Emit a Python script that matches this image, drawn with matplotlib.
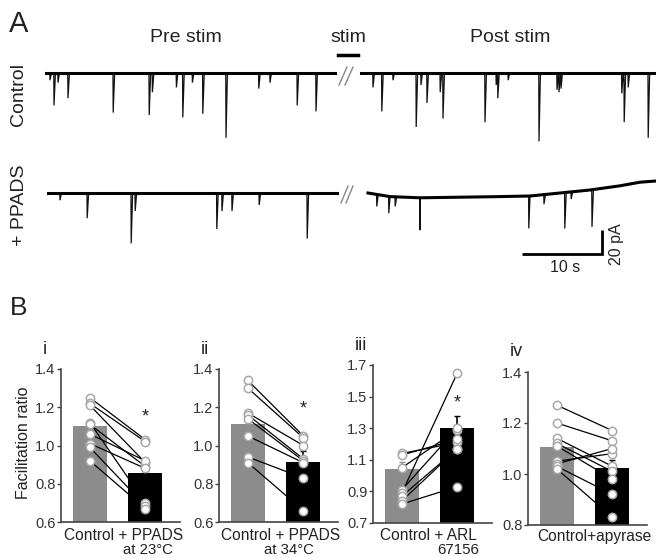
import numpy as np
import matplotlib.pyplot as plt

plt.rcParams['font.family'] = ['Liberation Sans', 'DejaVu Sans']

W, H = 656, 558
TXT = '#222222'

# ---- A: miniature currents, events = (time from segment start in s, amplitude in pA)
ctrl_pre_t = [0.5, 1.0, 1.5, 2.75, 8.4, 12.9, 13.3, 16.3, 17.1, 18.3, 19.6, 22.5, 26.6, 28.0, 31.4, 33.75]
ctrl_pre_a = [6, 27, 8, 21, 33, 35, 16, 12, 37, 8, 34, 54, 13, 8, 27, 32]
ctrl_post_t = [1.5, 2.6, 4.0, 6.9, 7.5, 8.25, 9.9, 10.25, 15.5, 16.9, 17.1, 18.4,
               22.25, 24.5, 24.75, 25.0, 32.6, 32.9, 33.4, 35.9]
ctrl_post_a = [12, 32, 6, 45, 10, 25, 16, 38, 41, 10, 21, 6, 57, 14, 16, 13, 17, 41, 12, 54]
ppads_pre_t = [1.5, 4.9, 10.4, 10.9, 21.1, 21.75, 23.0, 26.4, 32.4]
ppads_pre_a = [6, 21, 42, 15, 30, 15, 15, 10, 38]
ppads_post_t = [1.1, 2.6, 3.4, 6.5, 20.1, 22.0, 24.6, 25.4, 28.0]
ppads_post_a = [10, 14, 8, 27, 27, 8, 30, 6, 31]
ppads_post_base_t = [0, 2.75, 6.5, 16.5, 20.25, 24, 27.75, 31.5, 34, 36]
ppads_post_base_v = [0, -3, -4, -3, -2.5, 0, 2.5, 6, 9, 10]

# ---- B: facilitation ratios (paired cells), bar means and SEM
i_ctrl = [1.25, 1.22, 1.21, 1.12, 1.11, 1.06, 1.01, 0.99, 0.92]
i_drug = [1.03, 1.02, 0.91, 0.70, 0.89, 0.92, 0.88, 0.685, 0.67]
i_mean = [1.10, 0.855]
i_sem = [0.035, 0.045]

ii_ctrl = [1.34, 1.30, 1.17, 1.16, 1.14, 1.05, 0.94, 0.91]
ii_drug = [1.05, 1.04, 1.00, 0.93, 0.92, 0.91, 0.83, 0.66]
ii_mean = [1.115, 0.915]
ii_sem = [0.055, 0.055]

iii_ctrl = [1.14, 1.13, 1.05, 0.91, 0.89, 0.87, 0.84, 0.82]
iii_drug = [1.21, 1.23, 1.29, 1.30, 1.65, 1.17, 1.17, 0.93]
iii_mean = [1.04, 1.30]
iii_sem = [0.045, 0.08]

iv_ctrl = [1.27, 1.20, 1.14, 1.12, 1.11, 1.05, 1.04, 1.03, 1.02]
iv_drug = [1.17, 1.13, 1.03, 1.01, 0.98, 1.08, 1.10, 0.92, 0.83]
iv_mean = [1.105, 1.025]
iv_sem = [0.03, 0.03]


def fx(px):
    return px / W


def fy(py):
    return 1 - py / H


def trace(ax, t0, dur, ev_t, ev_a, off, base_t=None, base_v=None):
    if base_t is None:
        base_t, base_v = [0, dur], [0, 0]
    pts = [(t, v) for t, v in zip(base_t, base_v)]
    for t, a in zip(ev_t, ev_a):
        b = np.interp(t, base_t, base_v)
        pts += [(t - 0.03, b), (t, b - a), (t + 0.18, b)]
    pts.sort()
    tt = np.array([p[0] for p in pts]) + t0
    vv = np.array([p[1] for p in pts]) + off
    ax.plot(tt, vv, color='#111111', lw=0.9, solid_joinstyle='miter')
    ax.plot(np.array(base_t) + t0, np.array(base_v) + off, color='black', lw=2.2)


fig = plt.figure(figsize=(W / 100, H / 100), dpi=100)

# panel A drawn in one axes: x in s (8 px/s), y in pA (1.2 px/pA)
ax_a = fig.add_axes([0, 0, 1, 1])
ax_a.set_xlim(0, W / 8)
ax_a.set_ylim(-(H - 73) / 1.2, 73 / 1.2)
ax_a.axis('off')

trace(ax_a, 46 / 8, 36.1, ctrl_pre_t, ctrl_pre_a, 0)
trace(ax_a, 361 / 8, 36.9, ctrl_post_t, ctrl_post_a, 0)
trace(ax_a, 48 / 8, 36.1, ppads_pre_t, ppads_pre_a, -100)
trace(ax_a, 368 / 8, 36.0, ppads_post_t, ppads_post_a, -100, ppads_post_base_t, ppads_post_base_v)

# break marks and stim bar
for (x1, y1, x2, y2) in [(339, 85, 347, 67), (345, 85, 353, 67),
                         (341, 203, 348, 186), (346, 203, 353, 186)]:
    fig.add_artist(plt.Line2D([fx(x1), fx(x2)], [fy(y1), fy(y2)], color='#888888', lw=1.0))
fig.add_artist(plt.Line2D([fx(338), fx(358)], [fy(55), fy(55)], color='black', lw=2.5))

# scale bar 10 s / 20 pA
sb_t, sb_v = 65.25, -150.8
ax_a.plot([sb_t, sb_t + 10, sb_t + 10], [sb_v, sb_v, sb_v + 20], color='black', lw=2.0,
          solid_joinstyle='miter', solid_capstyle='butt')
fig.text(fx(565), fy(268), '10 s', fontsize=11.5, color=TXT, ha='center', va='center')
fig.text(fx(617), fy(244), '20 pA', fontsize=11.5, color=TXT, ha='center', va='center', rotation=90)

fig.text(fx(9), fy(24), 'A', fontsize=21, color=TXT, ha='left', va='center')
fig.text(fx(186), fy(37), 'Pre stim', fontsize=14, color=TXT, ha='center', va='center')
fig.text(fx(348), fy(38), 'stim', fontsize=14, color=TXT, ha='center', va='center')
fig.text(fx(510), fy(37), 'Post stim', fontsize=14, color=TXT, ha='center', va='center')
fig.text(fx(19), fy(95), 'Control', fontsize=14, color=TXT, ha='center', va='center', rotation=90)
fig.text(fx(20), fy(205), '+ PPADS', fontsize=14, color=TXT, ha='center', va='center', rotation=90)

fig.text(fx(10), fy(308), 'B', fontsize=19, color=TXT, ha='left', va='center')
fig.text(fx(23), fy(443), 'Facilitation ratio', fontsize=11.5, color=TXT,
         ha='center', va='center', rotation=90)

# panel B layout
SCALE = 55.5  # px per x unit
XL = (-0.52, 1.62)
panels = [
    ('i', 61, 369, 522, (0.6, 1.4), [0.6, 0.8, 1.0, 1.2, 1.4], i_ctrl, i_drug, i_mean, i_sem,
     1.15, ('Control + PPADS', 0.61), ('at 23°C', 1.05)),
    ('ii', 219, 369, 522, (0.6, 1.4), [0.6, 0.8, 1.0, 1.2, 1.4], ii_ctrl, ii_drug, ii_mean, ii_sem,
     1.19, ('Control + PPADS', 0.59), ('at 34°C', 0.74)),
    ('iii', 373, 365, 523, (0.7, 1.7), [0.7, 0.9, 1.1, 1.3, 1.5, 1.7], iii_ctrl, iii_drug, iii_mean, iii_sem,
     1.46, ('Control + ARL', 0.48), ('67156', 1.01)),
    ('iv', 528, 372, 525, (0.8, 1.4), [0.8, 1.0, 1.2, 1.4], iv_ctrl, iv_drug, iv_mean, iv_sem,
     None, ('Control+apyrase', 0.67), None),
]

for name, left, top, bottom, ylim, yticks, ctrl, drug, mean, sem, star, lab1, lab2 in panels:
    wpx = (XL[1] - XL[0]) * SCALE
    ax = fig.add_axes([fx(left), fy(bottom), wpx / W, (bottom - top) / H])
    ax.set_facecolor('none')
    ax.set_xlim(*XL)
    ax.set_ylim(*ylim)
    ax.bar([0, 1], mean, width=0.61, color=['#8c8c8c', 'black'], zorder=1)
    ax.errorbar([0], [mean[0]], yerr=[[0], [sem[0]]], fmt='none', ecolor='#8c8c8c',
                elinewidth=1.2, capsize=2.5, zorder=2)
    ax.errorbar([1], [mean[1]], yerr=[[0], [sem[1]]], fmt='none', ecolor='black',
                elinewidth=1.2, capsize=2.5, zorder=2)
    for c, d in zip(ctrl, drug):
        ax.plot([0, 1], [c, d], color='black', lw=0.9, zorder=3)
    ax.plot(np.zeros(len(ctrl)), ctrl, 'o', ms=6, mfc='white', mec='#a8a8a8', mew=1.1,
            zorder=4, clip_on=False)
    ax.plot(np.ones(len(drug)), drug, 'o', ms=6, mfc='white', mec='#a8a8a8', mew=1.1,
            zorder=4, clip_on=False)
    if star is not None:
        ax.text(1, star, '*', fontsize=13, color=TXT, ha='center', va='center')
    for s in ['top', 'right']:
        ax.spines[s].set_visible(False)
    for s in ['left', 'bottom']:
        ax.spines[s].set_color('#444444')
        ax.spines[s].set_linewidth(1.2)
    ax.set_xticks([])
    ax.set_yticks(yticks)
    ax.set_yticklabels(['%.1f' % v for v in yticks])
    ax.tick_params(axis='y', length=3, width=1, color='#444444', labelsize=10.5,
                   labelcolor='#333333', pad=1)
    ax.annotate(lab1[0], xy=(lab1[1], 0), xycoords=('data', 'axes fraction'),
                xytext=(0, -(536 - bottom)), textcoords='offset pixels',
                ha='center', va='center', fontsize=11.2, color=TXT, annotation_clip=False)
    if lab2 is not None:
        ax.annotate(lab2[0], xy=(lab2[1], 0), xycoords=('data', 'axes fraction'),
                    xytext=(0, -(550 - bottom)), textcoords='offset pixels',
                    ha='center', va='center', fontsize=10.8, color=TXT, annotation_clip=False)
    fig.text(fx(left - 18), fy(top - 20), name, fontsize=13, color=TXT, ha='left', va='center')

fig.savefig('out.png', dpi=100)
